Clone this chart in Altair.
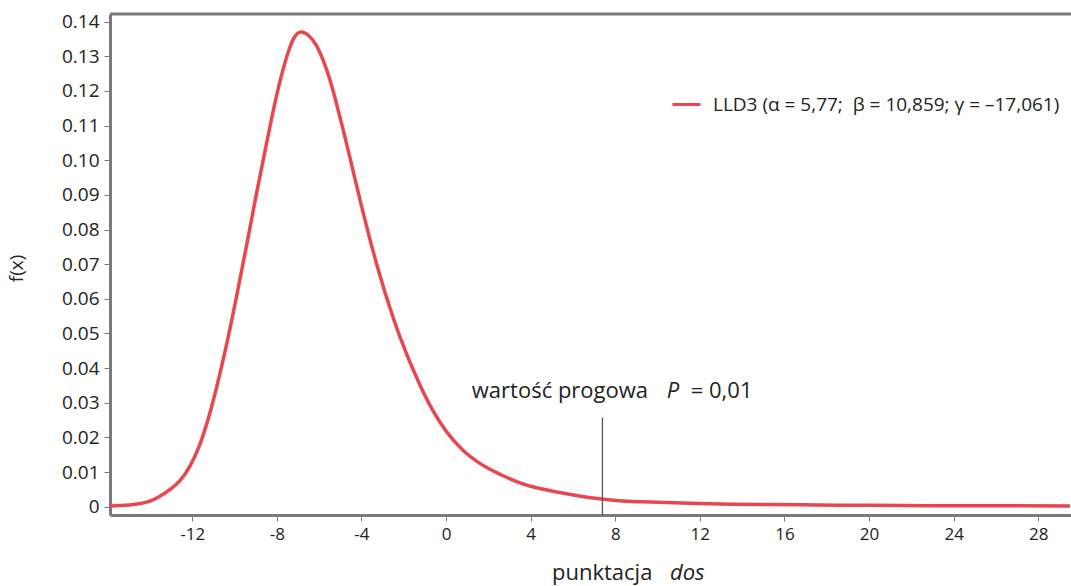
import altair as alt
import pandas as pd

# values
xs = [-15.9, -15.0, -14.0, -13.53, -13.0, -12.58, -12.11, -11.64, -11.16, -10.69,
      -10.45, -10.0, -9.43, -8.96, -8.5, -8.0, -7.5, -7.2, -6.85, -6.5,
      -6.12, -5.8, -5.49, -5.02, -4.54, -4.07, -3.6, -3.13, -2.66, -2.18,
      -1.24, -0.6, 0.03, 0.8, 1.6, 2.5, 3.49, 4.4, 5.37, 6.3, 7.26, 8.21, 9.3,
      10.43, 12.0, 13.5, 15.16, 17.5, 19.89, 23.0, 26.0, 29.5]
ys = [0.0002, 0.0005, 0.0016, 0.0030, 0.0052, 0.0075, 0.0117, 0.0180, 0.0272, 0.0385,
      0.0448, 0.0578, 0.0755, 0.0905, 0.1045, 0.1190, 0.1305, 0.1352, 0.1370, 0.1360,
      0.1330, 0.1287, 0.1232, 0.1125, 0.1006, 0.0886, 0.0772, 0.0668, 0.0575, 0.0490,
      0.0352, 0.0275, 0.0216, 0.0163, 0.0125, 0.0095, 0.0069, 0.0053, 0.0041, 0.0031,
      0.0023, 0.0017, 0.0014, 0.0012, 0.0009, 0.0007, 0.0006, 0.0005, 0.0004, 0.0003,
      0.00025, 0.0002]
series_label = "LLD3 (α = 5,77;\u00a0 β = 10,859; γ = –17,061)"
threshold_x = 7.395
x_ticks = [-12, -8, -4, 0, 4, 8, 12, 16, 20, 24, 28]
y_ticks = [0, 0.01, 0.02, 0.03, 0.04, 0.05, 0.06, 0.07, 0.08, 0.09, 0.10, 0.11, 0.12, 0.13, 0.14]

X_DOM = [-15.89, 29.55]
Y_DOM = [-0.0024, 0.1422]
FONT = "Open Sans"
RED = "#e8474f"
INK = "#222222"
GREY = "#7a7a7a"

df = pd.DataFrame({"x": xs, "y": ys, "series": [series_label] * len(xs)})
one = pd.DataFrame({"k": [0]})

xscale = alt.Scale(domain=X_DOM, nice=False, zero=False)
yscale = alt.Scale(domain=Y_DOM, nice=False, zero=False)

line = alt.Chart(df).mark_line(strokeWidth=3.5, interpolate="monotone").encode(
    x=alt.X("x:Q", scale=xscale,
            axis=alt.Axis(values=x_ticks, tickCount=30, labelExpr="toString(datum.value)",
                          title=None, grid=False, domainColor=GREY, domainWidth=3,
                          tickColor=GREY, tickSize=6, tickWidth=1, labelFontSize=17,
                          labelFont=FONT, labelColor=INK, labelPadding=5, labelOverlap=False)),
    y=alt.Y("y:Q", scale=yscale,
            axis=alt.Axis(values=y_ticks, tickCount=30,
                          labelExpr="datum.value == 0 ? '0' : format(datum.value, '.2f')",
                          title="f(x)", titleFont=FONT, titleFontSize=19, titleFontWeight="normal",
                          titleColor=INK, titleX=-84, titleY=254,
                          grid=False, domainColor=GREY, domainWidth=3, tickColor=GREY,
                          tickSize=6, tickWidth=1, labelFontSize=19, labelFont=FONT,
                          labelColor=INK, labelPadding=5, labelOverlap=False)),
    color=alt.Color("series:N", scale=alt.Scale(domain=[series_label], range=[RED]),
                    legend=alt.Legend(title=None, orient="none", legendX=561, legendY=75,
                                      symbolType="stroke", symbolSize=784, symbolStrokeWidth=3,
                                      labelFont=FONT, labelFontSize=19, labelColor=INK,
                                      labelOffset=11, padding=0, labelLimit=0)),
)

top_border = alt.Chart(one).mark_rule(color=GREY, strokeWidth=3).encode(
    y=alt.datum(Y_DOM[1], scale=yscale)
)

thr = alt.Chart(one).mark_rule(color="#555555", strokeWidth=1.3).encode(
    x=alt.datum(threshold_x),
    y=alt.datum(Y_DOM[0]),
    y2=alt.datum(0.0257),
)

ann1 = alt.Chart(one).mark_text(font=FONT, fontSize=22, color=INK, align="right",
                                baseline="alphabetic").encode(
    x=alt.datum(9.55), y=alt.datum(0.0314), text=alt.value("wartość progowa"))
ann2 = alt.Chart(one).mark_text(font=FONT, fontSize=22, color=INK, align="left",
                                baseline="alphabetic", fontStyle="italic").encode(
    x=alt.datum(10.43), y=alt.datum(0.0314), text=alt.value("P"))
ann3 = alt.Chart(one).mark_text(font=FONT, fontSize=22, color=INK, align="left",
                                baseline="alphabetic").encode(
    x=alt.datum(11.57), y=alt.datum(0.0314), text=alt.value("= 0,01"))

xt1 = alt.Chart(one).mark_text(font=FONT, fontSize=22, color=INK, align="left",
                               baseline="alphabetic").encode(
    x=alt.value(442), y=alt.value(566), text=alt.value("punktacja"))
xt2 = alt.Chart(one).mark_text(font=FONT, fontSize=22, color=INK, align="left",
                               baseline="alphabetic", fontStyle="italic").encode(
    x=alt.value(560), y=alt.value(566), text=alt.value("dos"))

chart = alt.layer(line, top_border, thr, ann1, ann2, ann3, xt1, xt2).properties(
    width=961, height=501,
    autosize=alt.AutoSizeParams(type="none"),
    padding={"left": 110, "top": 14, "right": 0, "bottom": 71},
    background="white",
).configure_view(stroke=None)

chart.save("out.html", embed_options={"renderer": "svg", "actions": False})
